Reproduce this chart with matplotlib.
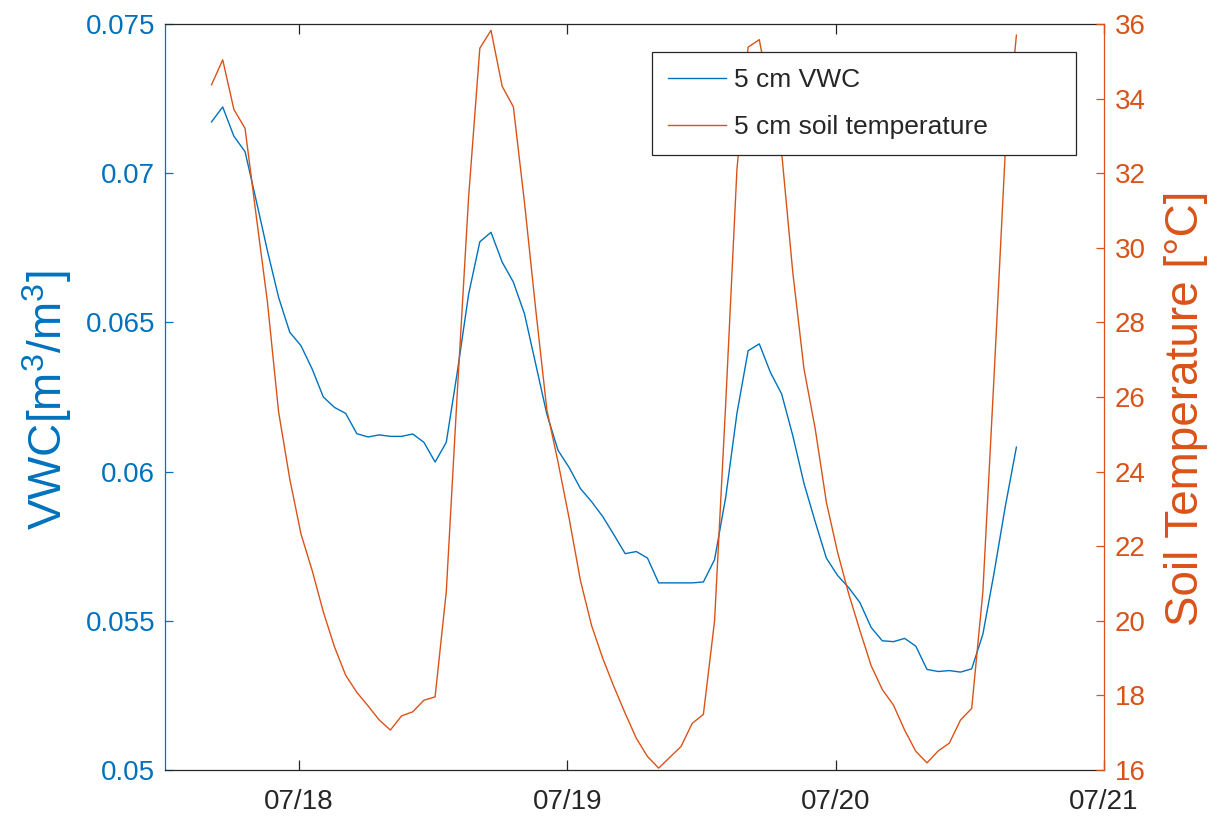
import matplotlib
matplotlib.use("Agg")
import matplotlib.dates as mdates
import matplotlib.pyplot as plt
import numpy as np
import pandas as pd
from matplotlib.ticker import FormatStrFormatter, MultipleLocator

plt.rcParams["font.family"] = ["Liberation Sans", "DejaVu Sans"]
plt.rcParams["mathtext.fontset"] = "custom"
plt.rcParams["mathtext.rm"] = "Liberation Sans"
plt.rcParams["mathtext.it"] = "Liberation Sans:italic"

# hourly readings, 07/17 16:10 -> 07/20 16:10
times = pd.date_range("2019-07-17 16:10", periods=73, freq="h")

vwc_5cm = [
    0.07172, 0.07222, 0.07124, 0.07072, 0.06908, 0.06740, 0.06584, 0.06467,
    0.06422, 0.06344, 0.06250, 0.06215, 0.06195, 0.06127, 0.06116, 0.06123,
    0.06118, 0.06118, 0.06126, 0.06098, 0.06032, 0.06098, 0.06337, 0.06595,
    0.06770, 0.06802, 0.06702, 0.06635, 0.06528, 0.06360, 0.06192, 0.06071,
    0.06013, 0.05943, 0.05899, 0.05849, 0.05788, 0.05725, 0.05732, 0.05710,
    0.05627, 0.05627, 0.05627, 0.05627, 0.05630, 0.05705, 0.05915, 0.06195,
    0.06405, 0.06428, 0.06332, 0.06260, 0.06120, 0.05960, 0.05832, 0.05710,
    0.05652, 0.05611, 0.05561, 0.05478, 0.05433, 0.05430, 0.05441, 0.05415,
    0.05337, 0.05330, 0.05333, 0.05328, 0.05339, 0.05455, 0.05660, 0.05882,
    0.06082,
]

temp_5cm = [
    34.37, 35.04, 33.71, 33.20, 30.85, 28.55, 25.60, 23.80,
    22.33, 21.35, 20.24, 19.30, 18.54, 18.08, 17.72, 17.34,
    17.07, 17.45, 17.56, 17.87, 17.96, 20.78, 26.20, 31.37,
    35.35, 35.83, 34.33, 33.78, 31.20, 28.35, 25.65, 24.25,
    22.73, 21.08, 19.87, 18.99, 18.23, 17.52, 16.85, 16.36,
    16.05, 16.34, 16.63, 17.25, 17.49, 20.00, 25.85, 32.10,
    35.38, 35.58, 34.00, 32.55, 29.33, 26.75, 25.15, 23.18,
    21.84, 20.72, 19.74, 18.80, 18.16, 17.74, 17.07, 16.50,
    16.19, 16.51, 16.72, 17.34, 17.65, 20.78, 26.55, 32.55,
    35.70,
]

BLUE = "#0072BD"
ORANGE = "#D95319"
DARK = "#262626"


def main() -> None:
    fig = plt.figure(figsize=(12.2, 8.22), dpi=100)
    ax1 = fig.add_axes([0.1352, 0.0633, 0.7697, 0.9075])
    ax2 = ax1.twinx()

    l1, = ax1.plot(times, vwc_5cm, color=BLUE, linewidth=1.0, label="5 cm VWC")
    l2, = ax2.plot(times, temp_5cm, color=ORANGE, linewidth=1.0,
                   label="5 cm soil temperature")

    ax1.set_xlim(pd.Timestamp("2019-07-17 12:00"), pd.Timestamp("2019-07-21 00:00"))
    ax1.set_ylim(0.05, 0.075)
    ax2.set_ylim(16, 36)

    ax1.xaxis.set_major_locator(mdates.DayLocator())
    ax1.xaxis.set_major_formatter(mdates.DateFormatter("%m/%d"))
    ax1.yaxis.set_major_locator(MultipleLocator(0.005))
    ax1.yaxis.set_major_formatter(FormatStrFormatter("%g"))
    ax2.yaxis.set_major_locator(MultipleLocator(2))

    for side in ("top", "bottom"):
        ax1.spines[side].set_color(DARK)
        ax2.spines[side].set_visible(False)
    ax1.spines["right"].set_visible(False)
    ax2.spines["left"].set_visible(False)
    ax1.spines["left"].set_color(BLUE)
    ax2.spines["right"].set_color(ORANGE)
    for sp in list(ax1.spines.values()) + list(ax2.spines.values()):
        sp.set_linewidth(0.9)

    ax1.tick_params(axis="x", direction="in", top=True, length=7, width=0.9,
                    color=DARK, labelcolor=DARK, labelsize=20, pad=14)
    ax1.tick_params(axis="y", direction="in", right=False, length=6, width=0.9,
                    color=BLUE, labelcolor=BLUE, labelsize=20, pad=7)
    ax2.tick_params(axis="y", direction="in", length=6, width=0.9,
                    color=ORANGE, labelcolor=ORANGE, labelsize=20, pad=8)

    ax1.set_ylabel("VWC[m$^3$/m$^3$]", color=BLUE, fontsize=33)
    ax1.yaxis.set_label_coords(-0.097, 0.495)
    ax2.set_ylabel("Soil Temperature [°C]", color=ORANGE, fontsize=33)
    ax2.yaxis.set_label_coords(1.0639, 0.485)

    leg = ax2.legend(
        handles=[l1, l2],
        loc="upper left",
        bbox_to_anchor=(0.5186, 0.0, 0.4515, 0.9625),
        mode="expand",
        borderaxespad=0,
        fontsize=19,
        handlelength=2.2,
        handletextpad=0.3,
        borderpad=0.62,
        labelspacing=0.85,
        fancybox=False,
        framealpha=1,
        edgecolor=DARK,
    )
    leg.get_frame().set_linewidth(0.9)
    for txt in leg.get_texts():
        txt.set_color(DARK)

    fig.savefig("out.png", dpi=100)
    plt.close(fig)


if __name__ == "__main__":
    main()
